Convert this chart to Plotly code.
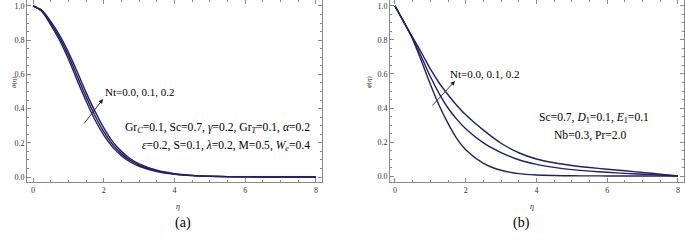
import plotly.graph_objects as go

# ---------------- data ----------------
eta_a = [0, 0.25, 0.5, 0.75, 1.0, 1.25, 1.5, 1.75, 2.0, 2.25, 2.5, 2.75, 3.0, 3.5, 4.0, 4.5, 5.0, 5.5, 6.0, 7.0, 8.0]
theta_nt00 = [1.0, 0.968, 0.89, 0.80, 0.69, 0.565, 0.445, 0.335, 0.245, 0.175, 0.125, 0.088, 0.063, 0.032, 0.016, 0.008, 0.004, 0.002, 0.001, 0.0003, 0.0]
theta_nt01 = [1.0, 0.972, 0.90, 0.815, 0.71, 0.59, 0.47, 0.36, 0.265, 0.19, 0.137, 0.097, 0.07, 0.036, 0.018, 0.009, 0.0045, 0.0022, 0.0011, 0.0003, 0.0]
theta_nt02 = [1.0, 0.975, 0.91, 0.83, 0.73, 0.615, 0.495, 0.385, 0.287, 0.207, 0.15, 0.107, 0.077, 0.04, 0.02, 0.01, 0.005, 0.0025, 0.0012, 0.0003, 0.0]

eta_b = [0, 0.25, 0.5, 0.75, 1.0, 1.25, 1.5, 1.75, 2.0, 2.5, 3.0, 3.5, 4.0, 4.5, 5.0, 5.5, 6.0, 6.5, 7.0, 7.5, 8.0]
phi_nt00 = [1.0, 0.905, 0.805, 0.675, 0.54, 0.415, 0.31, 0.22, 0.155, 0.075, 0.034, 0.014, 0.006, 0.003, 0.0015, 0.001, 0.0005, 0.0003, 0.0002, 0.0001, 0.0]
phi_nt01 = [1.0, 0.905, 0.81, 0.70, 0.585, 0.485, 0.40, 0.333, 0.278, 0.195, 0.138, 0.096, 0.069, 0.051, 0.038, 0.029, 0.022, 0.016, 0.011, 0.006, 0.0]
phi_nt02 = [1.0, 0.907, 0.815, 0.725, 0.63, 0.547, 0.478, 0.415, 0.36, 0.27, 0.193, 0.137, 0.10, 0.078, 0.062, 0.05, 0.04, 0.031, 0.021, 0.011, 0.0]

x_ticks = [0, 2, 4, 6, 8]
y_ticks = [0.0, 0.2, 0.4, 0.6, 0.8, 1.0]
y_tick_labels = ["0.0", "0.2", "0.4", "0.6", "0.8", "1.0"]

# ---------------- figure ----------------
W, H = 685, 244
LINE = "rgb(35,32,105)"
FONT = "Liberation Serif, Times New Roman, serif"

fig = go.Figure()
for ys in (theta_nt00, theta_nt01, theta_nt02):
    fig.add_trace(go.Scatter(x=eta_a, y=ys, mode="lines", line=dict(color=LINE, width=1.4, shape="spline", smoothing=0.8),
                             xaxis="x", yaxis="y", showlegend=False, hoverinfo="skip"))
for ys in (phi_nt00, phi_nt01, phi_nt02):
    fig.add_trace(go.Scatter(x=eta_b, y=ys, mode="lines", line=dict(color=LINE, width=1.4, shape="spline", smoothing=0.8),
                             xaxis="x2", yaxis="y2", showlegend=False, hoverinfo="skip"))

def px(v):
    return v / W

def py(v):
    return 1 - v / H

ax_common = dict(showgrid=False, zeroline=False, showline=True, linecolor="#8a8a8a", linewidth=1,
                 mirror="ticks", ticks="inside", ticklen=4, tickcolor="#8a8a8a", tickwidth=1,
                 tickfont=dict(family=FONT, size=8, color="#333333"))

xa = dict(ax_common, range=[-0.17, 8.17], tickvals=x_ticks,
          minor=dict(dtick=0.5, tick0=0, ticks="inside", ticklen=2, tickcolor="#8a8a8a", showgrid=False))
ya = dict(ax_common, range=[-0.029, 1.035], tickvals=y_ticks, ticktext=y_tick_labels,
          minor=dict(dtick=0.05, tick0=0, ticks="inside", ticklen=2, tickcolor="#8a8a8a", showgrid=False))

fig.update_layout(
    width=W, height=H, margin=dict(l=0, r=0, t=0, b=0),
    paper_bgcolor="white", plot_bgcolor="white",
    xaxis=dict(xa, domain=[px(27), px(322)], anchor="y"),
    yaxis=dict(ya, domain=[py(182), py(0)], anchor="x"),
    xaxis2=dict(xa, domain=[px(390), px(684)], anchor="y2", range=[-0.14, 8.17]),
    yaxis2=dict(ya, domain=[py(182), py(0)], anchor="x2", range=[-0.035, 1.035]),
)

ann = []
tf = dict(family=FONT, size=11, color="black")
tp = dict(family=FONT, size=11.6, color="black")
# axis titles
ann.append(dict(text="<i>θ</i>(<i>η</i>)", x=px(8), y=py(82), xref="paper", yref="paper", showarrow=False,
                textangle=-90, font=dict(family=FONT, size=7, color="#333")))
ann.append(dict(text="<i>ϕ</i>(<i>η</i>)", x=px(369), y=py(82), xref="paper", yref="paper", showarrow=False,
                textangle=-90, font=dict(family=FONT, size=7, color="#333")))
ann.append(dict(text="<i>η</i>", x=px(174), y=py(213), xref="paper", yref="paper", showarrow=False,
                font=dict(family=FONT, size=8, color="#333")))
ann.append(dict(text="<i>η</i>", x=px(536), y=py(213), xref="paper", yref="paper", showarrow=False,
                font=dict(family=FONT, size=8, color="#333")))
ann.append(dict(text="(a)", x=px(173), y=py(233), xref="paper", yref="paper", showarrow=False,
                font=dict(family=FONT, size=14, color="black")))
ann.append(dict(text="(b)", x=px(532), y=py(233), xref="paper", yref="paper", showarrow=False,
                font=dict(family=FONT, size=14, color="black")))

# panel a labels
ann.append(dict(text="Nt=0.0, 0.1, 0.2", x=px(103), y=py(92), xref="paper", yref="paper", showarrow=False,
                xanchor="left", font=tf))
ann.append(dict(text="Gr<sub><i>C</i></sub>=0.1, Sc=0.7, <i>γ</i>=0.2, Gr<sub><i>T</i></sub>=0.1, <i>α</i>=0.2",
                x=px(312), y=py(128), xref="paper", yref="paper", showarrow=False, xanchor="right", font=tp))
ann.append(dict(text="<i>ε</i>=0.2, S=0.1, <i>λ</i>=0.2, M=0.5, <i>W</i><sub><i>e</i></sub>=0.4",
                x=px(312), y=py(146), xref="paper", yref="paper", showarrow=False, xanchor="right", font=tp))
# panel b labels
ann.append(dict(text="Nt=0.0, 0.1, 0.2", x=px(448), y=py(66), xref="paper", yref="paper", showarrow=False,
                xanchor="left", font=tf))
ann.append(dict(text="Sc=0.7, <i>D</i><sub>1</sub>=0.1, <i>E</i><sub>1</sub>=0.1", x=px(594), y=py(118),
                xref="paper", yref="paper", showarrow=False, xanchor="center", font=tp))
ann.append(dict(text="Nb=0.3, Pr=2.0", x=px(590), y=py(135), xref="paper", yref="paper", showarrow=False,
                xanchor="center", font=tp))

# arrows (tail offsets in pixels)
ann.append(dict(text="", x=px(103), y=py(99), ax=-20, ay=26, xref="paper", yref="paper",
                axref="pixel", ayref="pixel", showarrow=True, arrowhead=2, arrowsize=1, arrowwidth=0.9,
                arrowcolor="#222"))
ann.append(dict(text="", x=px(455), y=py(81), ax=-24, ay=26, xref="paper", yref="paper",
                axref="pixel", ayref="pixel", showarrow=True, arrowhead=2, arrowsize=1, arrowwidth=0.9,
                arrowcolor="#222"))

fig.update_layout(annotations=ann)
fig.write_html("out.html", config={"displayModeBar": False},
               post_script="document.body.style.margin='0';document.body.style.overflow='hidden';")
